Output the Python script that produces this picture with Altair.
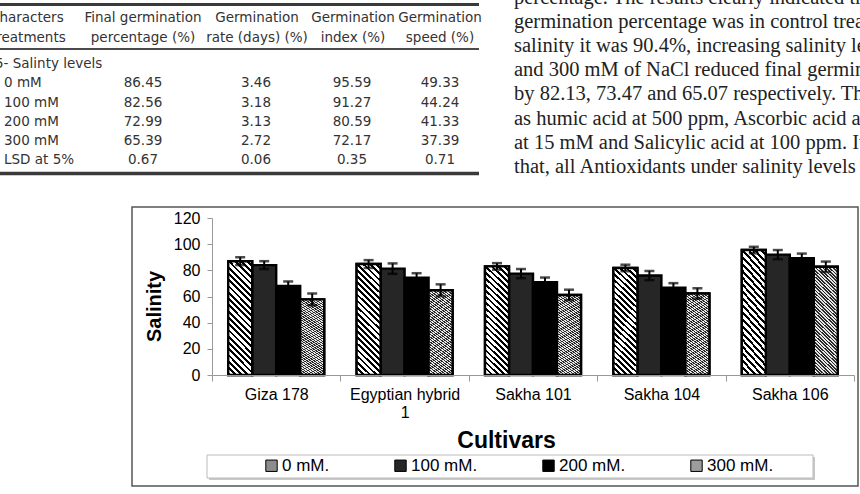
import altair as alt
import pandas as pd

# ---------------- chart data ----------------
cultivars = ["Giza 178", "Egyptian hybrid 1", "Sakha 101", "Sakha 104", "Sakha 106"]
treatments = ["0 mM.", "100 mM.", "200 mM.", "300 mM."]

v0 = [87.0, 84.8, 83.0, 81.8, 95.5]
v100 = [84.0, 81.3, 77.5, 76.0, 92.0]
v200 = [68.0, 74.3, 71.0, 66.7, 89.3]
v300 = [57.8, 64.8, 61.2, 62.3, 82.7]

e0 = [3.0, 3.0, 2.5, 2.5, 2.5]
e100 = [3.0, 4.0, 3.5, 3.5, 3.5]
e200 = [3.5, 3.5, 3.5, 3.5, 3.5]
e300 = [4.5, 4.5, 4.0, 4.0, 4.0]

# ---------------- surrounding page text (table + paragraph) ----------------
tbl_head_0 = ["Characters", "Treatments"]
tbl_head_1 = ["Final germination", "percentage (%)"]
tbl_head_2 = ["Germination", "rate (days) (%)"]
tbl_head_3 = ["Germination", "index (%)"]
tbl_head_4 = ["Germination", "speed (%)"]
tbl_group = "5- Salinty levels"
tbl_rows = ["0 mM", "100 mM", "200 mM", "300 mM", "LSD at 5%"]
tbl_fgp = ["86.45", "82.56", "72.99", "65.39", "0.67"]
tbl_gr = ["3.46", "3.18", "3.13", "2.72", "0.06"]
tbl_gi = ["95.59", "91.27", "80.59", "72.17", "0.35"]
tbl_gs = ["49.33", "44.24", "41.33", "37.39", "0.71"]

para_lines = [
    "percentage. The results clearly indicated that",
    "germination percentage was in control treatment",
    "salinity it was 90.4%, increasing salinity levels",
    "and 300 mM of NaCl reduced final germination",
    "by 82.13, 73.47 and 65.07 respectively. The other",
    "as humic acid at 500 ppm, Ascorbic acid at 100",
    "at 15 mM and Salicylic acid at 100 ppm. It can",
    "that, all Antioxidants under salinity levels as",
]

rows = []
for t, vals, errs in zip(treatments, [v0, v100, v200, v300], [e0, e100, e200, e300]):
    for c, v, e in zip(cultivars, vals, errs):
        rows.append({"cultivar": c, "treatment": t, "value": v, "lo": v - e, "hi": v + e})
df = pd.DataFrame(rows)

OX, OY = 212, 218  # plot-area origin in the page


def px(x):
    return x - OX


def py(y):
    return y - OY


def stripes(n, frac, dark, light):
    stops = []
    for i in range(n):
        a = i / n
        b = (i + frac) / n
        c = (i + 1) / n
        stops += [
            alt.GradientStop(offset=a, color=dark),
            alt.GradientStop(offset=b, color=dark),
            alt.GradientStop(offset=b, color=light),
            alt.GradientStop(offset=c, color=light),
        ]
    return alt.LinearGradient(gradient="linear", stops=stops, x1=0, y1=1, x2=0.247, y2=-0.161)


FONT = "Liberation Sans"
TFONT = "DejaVu Sans"
SERIF = "Liberation Serif"

x_enc = alt.X(
    "cultivar:N",
    sort=cultivars,
    scale=alt.Scale(domain=cultivars, paddingInner=0, paddingOuter=0),
    axis=alt.Axis(
        title="Cultivars",
        titleFont=FONT,
        titleFontSize=23,
        titleFontWeight="bold",
        titleColor="black",
        titleX=294,
        titleY=65,
        titleBaseline="middle",
        labelAngle=0,
        labelFont=FONT,
        labelFontSize=16,
        labelColor="black",
        labelPadding=5,
        labelLineHeight=18,
        labelExpr="datum.value == 'Egyptian hybrid 1' ? ['Egyptian hybrid', '1'] : datum.value",
        tickBand="extent",
        tickSize=6,
        tickColor="#999999",
        domainColor="#999999",
        grid=False,
        zindex=1,
    ),
)
xo_enc = alt.XOffset(
    "treatment:N",
    sort=treatments,
    scale=alt.Scale(domain=treatments, paddingInner=0, paddingOuter=0.675),
)
y_axis = alt.Axis(
    title="Salinity",
    titleFont=FONT,
    titleFontSize=20,
    titleFontWeight="bold",
    titleColor="black",
    titleX=-58,
    titleY=88,
    titleAngle=270,
    titleAlign="center",
    titleBaseline="middle",
    values=[0, 20, 40, 60, 80, 100, 120],
    labelFont=FONT,
    labelFontSize=16,
    labelColor="black",
    labelPadding=7,
    tickSize=5,
    tickColor="#999999",
    domainColor="#999999",
    grid=False,
    zindex=1,
)
y_scale = alt.Scale(domain=[0, 120], nice=False)

one = pd.DataFrame({"k": [0]})

frame = alt.Chart(one).mark_rect(fillOpacity=0, stroke="#555555", strokeWidth=1.5).encode(
    x=alt.value(px(132)), x2=alt.value(px(858)), y=alt.value(py(207)), y2=alt.value(py(486))
)
shadow = alt.Chart(one).mark_rect(fill="#c8c8c8").encode(
    x=alt.value(px(209)), x2=alt.value(px(815)), y=alt.value(py(457)), y2=alt.value(py(480))
)
legbox = alt.Chart(one).mark_rect(fill="white", stroke="#bbbbbb", strokeWidth=1).encode(
    x=alt.value(px(207)), x2=alt.value(px(813)), y=alt.value(py(455)), y2=alt.value(py(478))
)


def hrule(x1, x2, y, w, color):
    return alt.Chart(one).mark_rule(color=color, strokeWidth=w).encode(
        x=alt.value(px(x1)), x2=alt.value(px(x2)), y=alt.value(py(y))
    )


def ctext(lines, x, y, lh, align="center", font=TFONT, size=13.5, color="#333333"):
    return alt.Chart(one).mark_text(
        text=lines, align=align, baseline="alphabetic", font=font, fontSize=size,
        lineHeight=lh, color=color,
    ).encode(x=alt.value(px(x)), y=alt.value(py(y)))


table_layers = [
    hrule(0, 479, 4.5, 3, "#3a3a3a"),
    hrule(0, 479, 49, 2, "#4a4a4a"),
    hrule(0, 479, 173.5, 3.5, "#3a3a3a"),
    ctext(tbl_head_0, -10, 22, 20, align="left"),
    ctext(tbl_head_1, 143, 22, 20),
    ctext(tbl_head_2, 257, 22, 20),
    ctext(tbl_head_3, 353, 22, 20),
    ctext(tbl_head_4, 440, 22, 20),
    ctext([tbl_group], -5, 68, 19.3, align="left"),
    ctext(tbl_rows, 4, 87.3, 19.3, align="left"),
    ctext(tbl_fgp, 143, 87.3, 19.3),
    ctext(tbl_gr, 256, 87.3, 19.3),
    ctext(tbl_gi, 352, 87.3, 19.3),
    ctext(tbl_gs, 440, 87.3, 19.3),
    ctext(para_lines, 514, 4, 24.1, align="left", font=SERIF, size=20.5, color="#222222"),
]

base = alt.Chart(df)

bars = base.mark_bar(stroke="black", strokeWidth=2.4).encode(
    x=x_enc,
    xOffset=xo_enc,
    y=alt.Y("value:Q", scale=y_scale, axis=y_axis),
    color=alt.Color(
        "treatment:N",
        sort=treatments,
        scale=alt.Scale(domain=treatments, range=["#8c8c8c", "#262626", "#000000", "#9c9c9c"]),
        legend=alt.Legend(
            orient="none",
            legendX=51,
            legendY=239,
            direction="horizontal",
            title=None,
            symbolType="square",
            symbolSize=130,
            symbolStrokeColor="black",
            symbolStrokeWidth=1,
            labelFont=FONT,
            labelFontSize=17,
            labelColor="black",
            labelOffset=2,
            columnPadding=62,
        ),
    ),
)

hatch0 = base.transform_filter(alt.datum.treatment == "0 mM.").mark_bar(
    stroke="black", strokeWidth=2.4, fill=stripes(22, 0.45, "#000000", "#ffffff")
).encode(x=x_enc, xOffset=xo_enc, y=alt.Y("value:Q", scale=y_scale, axis=y_axis))

hatch300 = base.transform_filter(alt.datum.treatment == "300 mM.").mark_bar(
    stroke="black", strokeWidth=2.4, fill=stripes(40, 0.5, "#2a2a2a", "#e6e6e6")
).encode(x=x_enc, xOffset=xo_enc, y=alt.Y("value:Q", scale=y_scale, axis=y_axis))

err = base.mark_rule(color="black", strokeWidth=2).encode(
    x=x_enc, xOffset=xo_enc, y=alt.Y("lo:Q", scale=y_scale, axis=y_axis), y2="hi:Q"
)
cap_hi = base.mark_tick(color="black", thickness=2.5, size=10).encode(
    x=x_enc, xOffset=xo_enc, y=alt.Y("hi:Q", scale=y_scale, axis=y_axis)
)
cap_lo = base.mark_tick(color="black", thickness=2.5, size=10).encode(
    x=x_enc, xOffset=xo_enc, y=alt.Y("lo:Q", scale=y_scale, axis=y_axis)
)

chart = (
    alt.layer(frame, shadow, legbox, *table_layers, bars, hatch0, hatch300, err, cap_hi, cap_lo)
    .properties(
        width=642,
        height=157,
        padding={"left": 212, "top": 218, "right": 6, "bottom": 119},
        autosize=alt.AutoSizeParams(type="none"),
        background="white",
    )
    .configure_view(stroke=None)
)

chart.save("out.html", embed_options={"renderer": "svg", "actions": False})
